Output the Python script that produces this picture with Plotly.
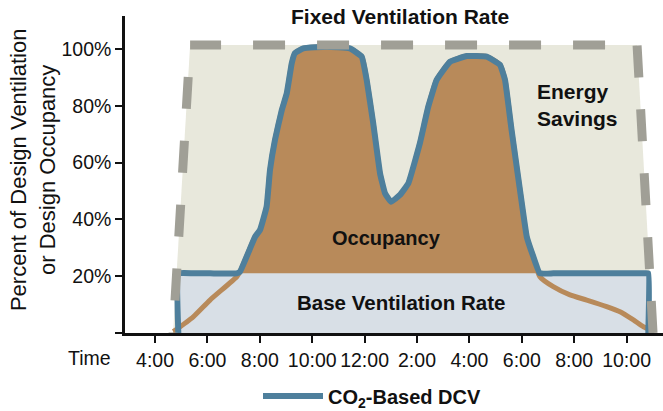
import plotly.graph_objects as go

# ---- data (hours of day, percent) ----
occ_hours = [4.70, 5.46, 6.10, 7.12, 7.24, 7.82, 8.01, 8.26, 8.39, 8.58, 8.84, 9.03, 9.22, 9.34,
             9.66, 10.55, 11.44, 11.89, 12.08, 12.33, 12.59, 12.78, 13.01, 13.35, 13.67, 14.11,
             14.43, 14.75, 15.26, 15.90, 16.66, 17.17, 17.36, 17.61, 17.93, 18.19, 18.44, 18.69,
             19.20, 19.84, 20.48, 21.24, 21.75, 22.26, 22.64, 22.96]
occ_pct = [0.5, 5.7, 11.6, 19.8, 21.5, 33.9, 36.3, 44.5, 57.4, 68.0, 78.5, 84.4, 95.0, 98.5,
           100.2, 100.8, 100.2, 97.3, 89.1, 73.8, 56.2, 49.2, 46.2, 48.6, 52.7, 66.8,
           79.7, 89.1, 95.5, 97.5, 97.3, 94.4, 89.1, 71.5, 50.4, 33.9, 26.9, 19.8,
           16.3, 13.4, 11.6, 9.3, 7.5, 4.6, 2.2, 1.0]

base_rate = 21.0            # base ventilation rate (% of design)
dcv_start, dcv_end = 4.89, 22.83

# fixed ventilation trapezoid corners: bottom-left, top-left, top-right, bottom-right
fixed_hours = [4.69, 5.34, 22.40, 23.01]
fixed_pct = [0, 101.4, 101.4, 0]

x_tickvals = [4, 6, 8, 10, 12, 14, 16, 18, 20, 22]
x_ticktext = ["4:00", "6:00", "8:00", "10:00", "12:00", "2:00", "4:00", "6:00", "8:00", "10:00"]
y_tickvals = [0, 20, 40, 60, 80, 100]
y_ticktext = ["", "20%", "40%", "60%", "80%", "100%"]

# ---- derived series ----
dcv_hours = [dcv_start, dcv_start]
dcv_pct = [0, base_rate]
for h, v in zip(occ_hours, occ_pct):
    if dcv_start < h < dcv_end:
        dcv_hours.append(h)
        dcv_pct.append(max(base_rate, v))
dcv_hours += [dcv_end, dcv_end]
dcv_pct += [base_rate, 0]

FONT = "Liberation Sans, Arial, sans-serif"
TXT = "#111111"
BLUE = "#4e7f9c"
BROWN = "#b88a5a"
LIGHTBLUE = "#d8dfe6"
BEIGE = "#e8e8dc"
GRAY = "#a09f96"

fig = go.Figure()

# Fixed ventilation area
fig.add_trace(go.Scatter(x=fixed_hours, y=fixed_pct, fill="toself", fillcolor=BEIGE,
                         line=dict(width=0), mode="lines", showlegend=False, hoverinfo="skip"))
# Occupancy area
fig.add_trace(go.Scatter(x=occ_hours, y=occ_pct, fill="tozeroy", fillcolor=BROWN,
                         line=dict(width=0, shape="spline", smoothing=0.6), mode="lines",
                         showlegend=False, hoverinfo="skip"))
# Base ventilation area
fig.add_trace(go.Scatter(x=[dcv_start, dcv_start, dcv_end, dcv_end],
                         y=[0, base_rate, base_rate, 0], fill="toself", fillcolor=LIGHTBLUE,
                         line=dict(width=0), mode="lines", showlegend=False, hoverinfo="skip"))
# Occupancy line
fig.add_trace(go.Scatter(x=occ_hours, y=occ_pct, mode="lines",
                         line=dict(color=BROWN, width=5, shape="spline", smoothing=0.6),
                         showlegend=False, hoverinfo="skip"))
# CO2-based DCV line
fig.add_trace(go.Scatter(x=dcv_hours, y=dcv_pct, mode="lines", name="<b>CO<sub>2</sub>-Based DCV</b>",
                         line=dict(color=BLUE, width=6, shape="spline", smoothing=0.3),
                         showlegend=True))
# Fixed ventilation dashed outline, drawn side by side
sides = [
    ([fixed_hours[3], fixed_hours[2]], [fixed_pct[3], fixed_pct[2]], "32px,32px"),
    ([fixed_hours[2], fixed_hours[1]], [fixed_pct[2], fixed_pct[1]], "0px,32px,32px,0px"),
    ([fixed_hours[1], fixed_hours[0]], [fixed_pct[1], fixed_pct[0]], "0px,32px,32px,0px"),
]
for sx, sy, dash in sides:
    fig.add_trace(go.Scatter(x=sx, y=sy, mode="lines",
                             line=dict(color=GRAY, width=9, dash=dash),
                             showlegend=False, hoverinfo="skip"))

ann = []
ann.append(dict(text="<b>Fixed Ventilation Rate</b>", x=13.35, xref="x", y=(333 - 17) / 317,
                yref="paper", xanchor="center", yanchor="middle", showarrow=False,
                font=dict(size=21)))
ann.append(dict(text="<b>Energy<br>Savings</b>", x=18.52, xref="x", y=80.3, yref="y",
                xanchor="left", yanchor="middle", align="left", showarrow=False,
                font=dict(size=21)))
ann.append(dict(text="<b>Occupancy</b>", x=12.84, xref="x", y=33.5, yref="y",
                xanchor="center", yanchor="middle", showarrow=False, font=dict(size=20)))
ann.append(dict(text="<b>Base Ventilation Rate</b>", x=13.38, xref="x", y=10.6, yref="y",
                xanchor="center", yanchor="middle", showarrow=False, font=dict(size=20.5)))
ann.append(dict(text="Percent of Design Ventilation<br>or Design Occupancy",
                x=(33 - 125) / 538, xref="paper", y=0.514, yref="paper", textangle=-90,
                xanchor="center", yanchor="middle", showarrow=False, font=dict(size=22)))
ann.append(dict(text="Time", x=(89 - 125) / 538, xref="paper", y=(333 - 358) / 317,
                yref="paper", xanchor="center", yanchor="middle", showarrow=False,
                font=dict(size=19.5)))

fig.update_layout(
    width=663, height=411,
    margin=dict(l=125, r=0, t=16, b=78, autoexpand=False),
    paper_bgcolor="white", plot_bgcolor="white",
    font=dict(family=FONT, color=TXT, size=19.5),
    annotations=ann,
    showlegend=True,
    legend=dict(orientation="h", x=(372 - 125) / 538, xanchor="center",
                y=(333 - 396) / 317, yanchor="middle",
                font=dict(size=20), itemwidth=60, bgcolor="rgba(0,0,0,0)"),
    xaxis=dict(range=[2.855, 23.39], tickvals=x_tickvals, ticktext=x_ticktext, tickangle=0,
               showgrid=False, zeroline=False, showline=True, linecolor="#111111", linewidth=2.5,
               ticks="outside", ticklen=7, tickwidth=1.5, tickcolor="#111111", fixedrange=True,
               ticklabelstandoff=1, automargin=False),
    yaxis=dict(range=[0, 111.6], tickvals=y_tickvals, ticktext=y_ticktext,
               showgrid=False, zeroline=False, showline=True, linecolor="#111111", linewidth=2.5,
               ticks="outside", ticklen=7, tickwidth=1.5, tickcolor="#111111", fixedrange=True,
               ticklabelstandoff=0, automargin=False),
)

fig.write_html("out.html", config={"displayModeBar": False},
               post_script="document.body.style.margin='0px';")
